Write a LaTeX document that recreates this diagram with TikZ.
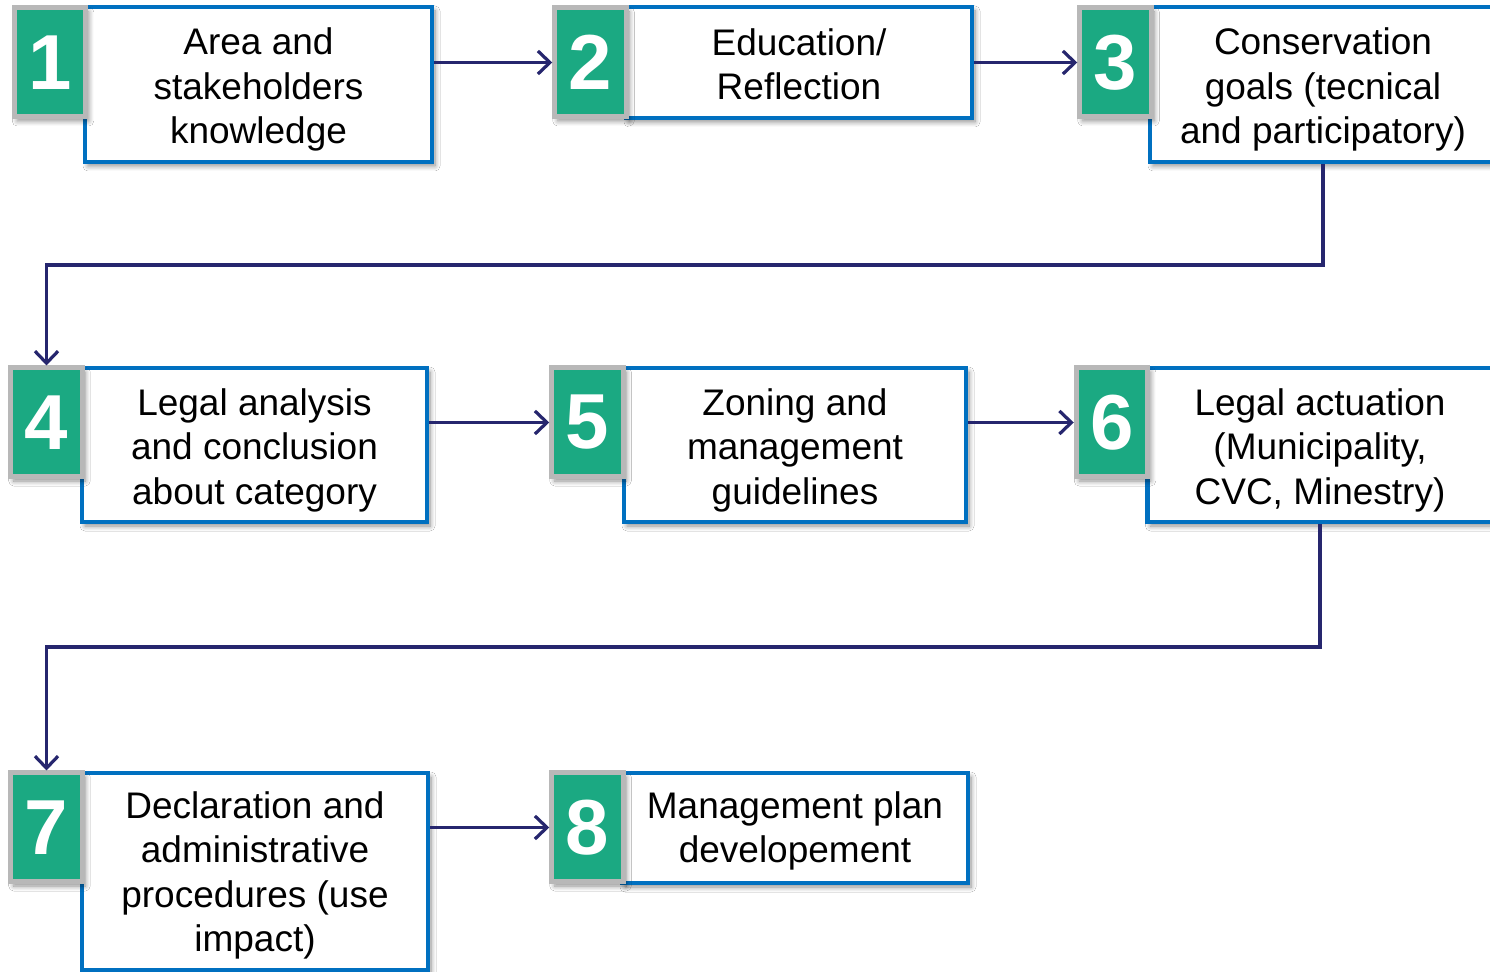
\documentclass[tikz,border=0pt]{standalone}
\usepackage{fontspec}
\setmainfont{Liberation Sans}
\usetikzlibrary{arrows.meta,shadows,shadows.blur}
\definecolor{bblue}{HTML}{0070C0}
\definecolor{ggreen}{HTML}{1BA982}
\definecolor{ggray}{HTML}{B8B8B8}
\definecolor{navy}{HTML}{26266E}
\begin{document}
\begin{tikzpicture}[x=0.5pt,y=-0.5pt,
  shad/.style={blur shadow={shadow xshift=1.5pt,shadow yshift=-2pt,shadow blur radius=2.5pt,shadow blur steps=8,shadow opacity=45}},
  wbox/.style={rectangle,draw=bblue,line width=2.25pt,fill=white,inner sep=0pt,shad},
  txt/.style={align=center,inner sep=0pt,font=\fontsize{18.5}{22.25}\selectfont},
  numbox/.style={rectangle,draw=ggray,line width=2.5pt,fill=ggreen,text=white,inner sep=0pt,
    minimum width=35.75pt,minimum height=54.5pt,font=\bfseries\fontsize{39}{40}\selectfont,shad},
  arr/.style={draw=navy,line width=1.6pt,-{Straight Barb[length=6pt,width=11.5pt,line width=1.6pt]}}
]
\clip (0,0) rectangle (1490,972);
\fill[white] (0,0) rectangle (1490,972);
% row 1
\node[wbox,minimum width=173.5pt,minimum height=77.5pt,label={[txt,yshift=-2.5pt]center:Area and\\stakeholders\\knowledge}] (b1) at (258.5,84.5) {};
\node[numbox] (g1) at (50,62.5) {1};
\node[wbox,minimum width=173pt,minimum height=55.5pt,label={[txt,yshift=-1pt]center:Education/\\Reflection}] (b2) at (799,62.5) {};
\node[numbox] (g2) at (590.5,62.5) {2};
\node[wbox,minimum width=173pt,minimum height=77.5pt,label={[txt,yshift=-2.5pt]center:Conservation\\goals (tecnical\\and participatory)}] (b3) at (1323,84.5) {};
\node[numbox] (g3) at (1115.5,62.5) {3};
% row 2
\node[wbox,minimum width=172.5pt,minimum height=77pt,label={[txt,yshift=-2.5pt]center:Legal analysis\\and conclusion\\about category}] (b4) at (254.5,445) {};
\node[numbox] (g4) at (46.5,422.5) {4};
\node[wbox,minimum width=171pt,minimum height=77pt,label={[txt,yshift=-2.5pt]center:Zoning and\\management\\guidelines}] (b5) at (795,445) {};
\node[numbox] (g5) at (587.5,422.5) {5};
\node[wbox,minimum width=172.5pt,minimum height=77pt,label={[txt,yshift=-2.5pt]center:Legal actuation\\(Municipality,\\CVC, Minestry)}] (b6) at (1320,445) {};
\node[numbox] (g6) at (1112,422.5) {6};
% row 3
\node[wbox,minimum width=173pt,minimum height=98.5pt,label={[txt,yshift=-2pt]center:Declaration and\\administrative\\procedures (use\\impact)}] (b7) at (255,871.5) {};
\node[numbox] (g7) at (46.5,827.5) {7};
\node[wbox,minimum width=173pt,minimum height=55pt,label={[txt,yshift=-1.5pt]center:Management plan\\developement}] (b8) at (795,828) {};
\node[numbox] (g8) at (587.5,827.5) {8};
% connectors
\coordinate (r1) at (0,265);
\coordinate (r2) at (0,647);
\draw[arr] (b1.east |- g2) -- (g2.west);
\draw[arr] (b2.east |- g3) -- (g3.west);
\draw[arr] (b3.south) -- (b3.south |- r1) -- (g4.north |- r1) -- (g4.north);
\draw[arr] (b4.east |- g5) -- (g5.west);
\draw[arr] (b5.east |- g6) -- (g6.west);
\draw[arr] (b6.south) -- (b6.south |- r2) -- (g7.north |- r2) -- (g7.north);
\draw[arr] (b7.east |- g8) -- (g8.west);
\end{tikzpicture}
\end{document}
